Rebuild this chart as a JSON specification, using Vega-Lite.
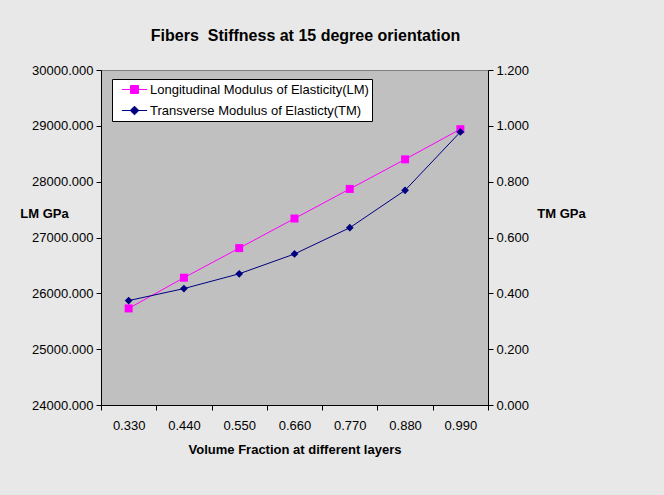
{
  "$schema": "https://vega.github.io/schema/vega-lite/v6.json",
  "width": 387,
  "height": 335,
  "autosize": "none",
  "padding": {"left": 101, "top": 70, "right": 176, "bottom": 90},
  "background": "#e8e8e8",
  "config": {
    "font": "Liberation Sans",
    "view": {"fill": "#c0c0c0", "stroke": "#808080", "strokeWidth": 1},
    "axis": {"domainColor": "black", "tickColor": "black", "labelColor": "black", "titleColor": "black", "labelFontSize": 13, "titleFontSize": 13, "titleFontWeight": "bold", "grid": false, "tickSize": 5, "labelFont": "Liberation Sans", "titleFont": "Liberation Sans"}
  },
  "title": {"text": "Fibers\u00a0 Stiffness at 15 degree orientation", "fontSize": 16, "fontWeight": "bold", "font": "Liberation Sans", "color": "black", "anchor": "middle", "dx": 11, "offset": 20},
  "data": {"values": [
    {"vf": "0.330", "series": "Longitudinal Modulus of Elasticity(LM)", "value": 25730},
    {"vf": "0.440", "series": "Longitudinal Modulus of Elasticity(LM)", "value": 26280},
    {"vf": "0.550", "series": "Longitudinal Modulus of Elasticity(LM)", "value": 26810},
    {"vf": "0.660", "series": "Longitudinal Modulus of Elasticity(LM)", "value": 27340},
    {"vf": "0.770", "series": "Longitudinal Modulus of Elasticity(LM)", "value": 27870},
    {"vf": "0.880", "series": "Longitudinal Modulus of Elasticity(LM)", "value": 28400},
    {"vf": "0.990", "series": "Longitudinal Modulus of Elasticity(LM)", "value": 28940},
    {"vf": "0.330", "series": "Transverse Modulus of Elasticty(TM)", "value": 0.374},
    {"vf": "0.440", "series": "Transverse Modulus of Elasticty(TM)", "value": 0.417},
    {"vf": "0.550", "series": "Transverse Modulus of Elasticty(TM)", "value": 0.470},
    {"vf": "0.660", "series": "Transverse Modulus of Elasticty(TM)", "value": 0.541},
    {"vf": "0.770", "series": "Transverse Modulus of Elasticty(TM)", "value": 0.635},
    {"vf": "0.880", "series": "Transverse Modulus of Elasticty(TM)", "value": 0.769},
    {"vf": "0.990", "series": "Transverse Modulus of Elasticty(TM)", "value": 0.978}
  ]},
  "encoding": {
    "x": {
      "field": "vf", "type": "ordinal", "sort": null,
      "scale": {"type": "band", "paddingInner": 0, "paddingOuter": 0},
      "axis": {"title": "Volume Fraction at different layers", "labelAngle": 0, "tickBand": "extent", "labelPadding": 9, "titlePadding": 11}
    },
    "color": {
      "field": "series", "type": "nominal",
      "scale": {"domain": ["Longitudinal Modulus of Elasticity(LM)", "Transverse Modulus of Elasticty(TM)"], "range": ["#ff00ff", "#000080"]},
      "legend": {
        "title": null, "orient": "none", "legendX": 11, "legendY": 9,
        "fillColor": "white", "strokeColor": "black", "padding": 3,
        "labelFontSize": 13, "labelColor": "black", "labelFont": "Liberation Sans", "labelLimit": 0,
        "symbolSize": 196, "symbolStrokeWidth": 1, "symbolOffset": 12, "labelOffset": 8, "rowPadding": 6,
        "encode": {"symbols": {"update": {
          "shape": [{"test": "datum.value === 'Longitudinal Modulus of Elasticity(LM)'", "value": "M-1.8,0H1.8M-0.57,-0.57H0.57V0.57H-0.57Z"}, {"value": "M-1.8,0H1.8M0,-0.62L0.62,0L0,0.62L-0.62,0Z"}],
          "fill": [{"test": "datum.value === 'Longitudinal Modulus of Elasticity(LM)'", "value": "#ff00ff"}, {"value": "#000080"}],
          "stroke": [{"test": "datum.value === 'Longitudinal Modulus of Elasticity(LM)'", "value": "#ff00ff"}, {"value": "#000080"}],
          "opacity": {"value": 1},
          "fillOpacity": {"value": 1}
        }}}
      }
    }
  },
  "layer": [
    {
      "transform": [{"filter": "datum.series === 'Longitudinal Modulus of Elasticity(LM)'"}],
      "mark": {"type": "line", "strokeWidth": 1, "point": {"shape": "square", "size": 64, "filled": true, "opacity": 1}},
      "encoding": {
        "y": {"field": "value", "type": "quantitative",
          "scale": {"domain": [24000, 30000], "zero": false, "nice": false},
          "axis": {"orient": "left", "values": [24000, 25000, 26000, 27000, 28000, 29000, 30000], "format": ".3f", "labelPadding": 3,
            "title": "LM GPa", "titleAngle": 0, "titleX": -57, "titleY": 143, "titleAlign": "center", "titleBaseline": "middle"}}
      }
    },
    {
      "transform": [{"filter": "datum.series === 'Transverse Modulus of Elasticty(TM)'"}],
      "mark": {"type": "line", "strokeWidth": 1, "point": {"shape": "diamond", "size": 60, "filled": true, "opacity": 1}},
      "encoding": {
        "y": {"field": "value", "type": "quantitative",
          "scale": {"domain": [0, 1.2], "nice": false},
          "axis": {"orient": "right", "values": [0, 0.2, 0.4, 0.6, 0.8, 1.0, 1.2], "format": ".3f", "labelPadding": 3,
            "title": "TM GPa", "titleAngle": 0, "titleX": 73, "titleY": 143, "titleAlign": "center", "titleBaseline": "middle"}}
      }
    }
  ],
  "resolve": {"scale": {"y": "independent"}}
}
